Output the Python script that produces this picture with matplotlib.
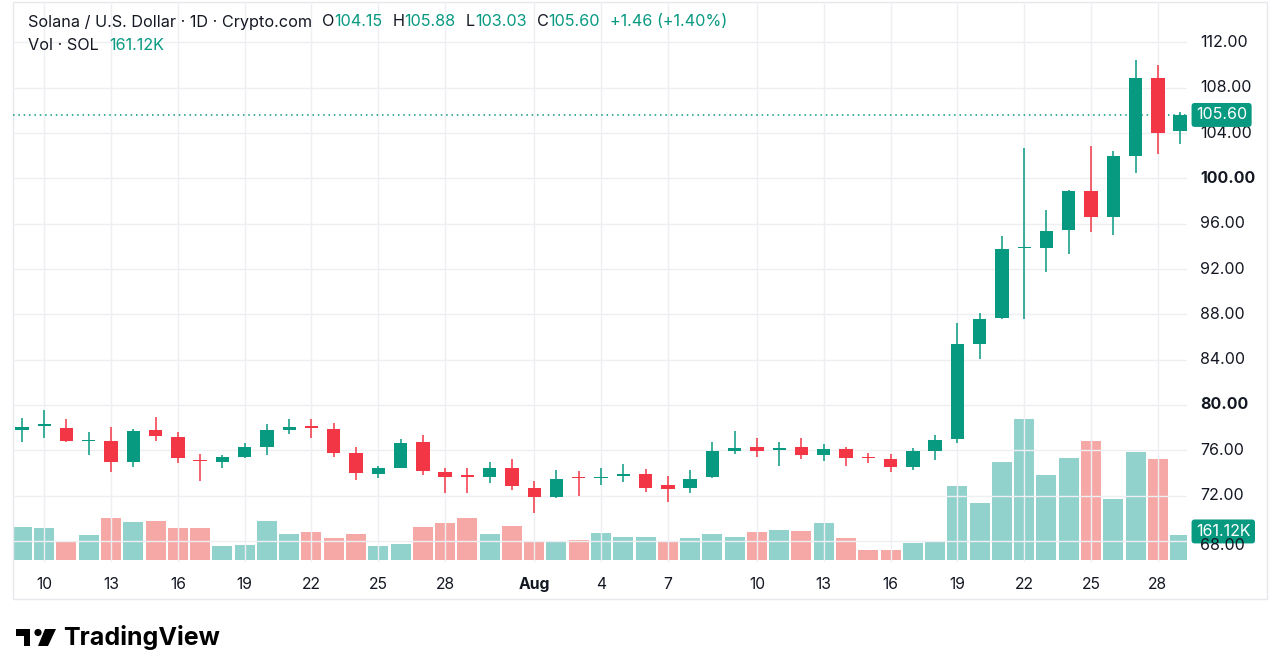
import matplotlib
matplotlib.use('Agg')
import matplotlib.pyplot as plt
from matplotlib.transforms import IdentityTransform
from matplotlib.patches import Rectangle, Circle, Polygon
import numpy as np

plt.rcParams['font.family'] = ['Inter', 'DejaVu Sans']

# daily candles, 9 Jul -> 28 Aug (SOL/USD, Crypto.com)
opens = [77.75, 78.15, 78.0, 76.8, 76.8, 74.95, 77.8, 77.15, 75.15, 75.0,
         75.45, 76.25, 77.75, 78.05, 77.9, 75.8, 73.9, 74.45, 76.7, 74.1,
         73.7, 73.6, 74.4, 72.7, 71.85, 73.6, 73.55, 73.75, 73.95, 72.95,
         72.65, 73.6, 75.95, 76.25, 76.05, 76.25, 75.6, 76.1, 75.4, 75.2,
         74.5, 75.95, 77.0, 85.4, 87.65, 93.85, 93.85, 95.45, 98.85, 96.6,
         102.0, 108.9, 104.15]
highs = [78.85, 79.55, 78.8, 77.65, 78.1, 77.85, 78.95, 77.6, 75.65, 75.6,
         76.6, 78.3, 78.75, 78.8, 78.45, 76.3, 74.6, 77.0, 77.35, 74.4,
         74.4, 74.95, 75.2, 73.25, 74.25, 74.2, 74.4, 74.8, 74.35, 73.75,
         74.3, 76.75, 77.7, 77.05, 76.7, 77.1, 76.55, 76.25, 75.75, 75.7,
         76.2, 77.35, 87.25, 88.1, 94.95, 102.65, 97.25, 98.95, 102.9, 102.4,
         110.45, 110.0, 105.88]
lows = [76.7, 77.1, 76.7, 75.6, 74.05, 74.55, 76.85, 74.9, 73.3, 74.4,
        75.3, 75.55, 77.4, 77.05, 75.45, 73.4, 73.55, 74.4, 73.8, 72.25,
        72.25, 73.1, 72.5, 70.5, 71.75, 71.95, 72.95, 73.2, 72.35, 71.45,
        72.25, 73.55, 75.7, 75.45, 74.6, 75.2, 75.05, 74.6, 74.9, 74.05,
        74.3, 75.15, 76.6, 84.05, 87.6, 87.6, 91.7, 93.3, 95.3, 95.0,
        100.45, 102.15, 103.03]
closes = [78.1, 78.2, 76.8, 76.9, 74.95, 77.7, 77.25, 75.3, 75.05, 75.4,
          76.3, 77.75, 78.1, 78.0, 75.8, 74.0, 74.4, 76.6, 74.2, 73.65,
          73.65, 74.4, 72.85, 71.85, 73.45, 73.55, 73.65, 73.95, 72.7, 72.55,
          73.5, 75.9, 76.2, 75.95, 76.15, 75.6, 76.1, 75.35, 75.3, 74.55,
          75.95, 76.9, 85.35, 87.6, 93.75, 93.9, 95.4, 98.85, 96.6, 102.0,
          108.9, 104.05, 105.6]
# volume in thousands of SOL
volumes = [215, 211, 124, 161, 272, 250, 254, 207, 207, 91,
           98, 256, 168, 183, 145, 168, 91, 104, 215, 241,
           272, 171, 220, 119, 122, 130, 174, 152, 148, 126,
           143, 171, 148, 183, 198, 189, 243, 143, 63, 65,
           109, 122, 480, 374, 639, 919, 556, 663, 776, 396,
           702, 660, 161.12]
vol_up = [1, 1, 0, 1, 0, 1, 0, 0, 0, 1,
          1, 1, 1, 0, 0, 0, 1, 1, 0, 0,
          0, 1, 0, 0, 1, 0, 1, 1, 1, 0,
          1, 1, 1, 0, 1, 0, 1, 0, 0, 0,
          1, 1, 1, 1, 1, 1, 1, 1, 0, 1,
          1, 0, 1]

tick_idx = [1, 4, 7, 10, 13, 16, 19, 23, 26, 29, 33, 36, 39, 42, 45, 48, 51]
tick_labels = ['10', '13', '16', '19', '22', '25', '28', 'Aug', '4', '7',
               '10', '13', '16', '19', '22', '25', '28']
price_ticks = [68, 72, 76, 80, 84, 88, 92, 96, 100, 104, 108, 112]

UP = '#089981'
DOWN = '#f23645'
DARK = '#131722'
GRID = '#eeeff2'

W, H = 1280, 650
fig = plt.figure(figsize=(12.8, 6.5), dpi=100, facecolor='white')
px = IdentityTransform()


def fy(y):
    return H - y


ax = fig.add_axes([13 / W, 1 - 562 / H, (1187 - 13) / W, (562 - 2) / H])
vax = ax.twinx()
ax.set_zorder(vax.get_zorder() + 1)
ax.patch.set_visible(False)

x = np.arange(len(opens))
o = np.array(opens)
c = np.array(closes)
up = c >= o
cols = np.where(up, UP, DOWN)

# volume bars
vcols = ['#26a69a' if u else '#ef5350' for u in vol_up]
vax.bar(x, volumes, width=0.9, color=vcols, alpha=0.5, linewidth=0)
vax.set_ylim(-13, 3638)
vax.set_yticks([])

# candles
ax.vlines(x, lows, highs, colors=cols, linewidth=1.1, zorder=3)
body = np.maximum(np.abs(c - o), 0.13)
ax.bar(x, body, bottom=np.minimum(o, c), width=0.6, color=cols, linewidth=0, zorder=4)

ax.set_xlim(-0.40, 52.31)
ax.set_ylim(66.14, 115.57)

ax.set_xticks(tick_idx)
ax.set_xticklabels(tick_labels)
ax.tick_params(axis='x', length=0, pad=10.5, labelsize=11.3, labelcolor=DARK)
for lbl in ax.get_xticklabels():
    if lbl.get_text() == 'Aug':
        lbl.set_fontweight('bold')

ax.set_yticks(price_ticks)
ax.set_yticklabels([])
ax.tick_params(axis='y', length=0, right=False, left=False)
ax.grid(True, color=GRID, linewidth=1)
ax.set_axisbelow(True)

for a in (ax, vax):
    for sp in a.spines.values():
        sp.set_visible(False)

# price scale labels
for v in price_ticks:
    dy = -5 if v == 68 else 0
    ax.annotate(f'{v:.2f}', xy=(1, v), xycoords=('axes fraction', 'data'),
                xytext=(9.5, dy * 0.72), textcoords='offset points',
                ha='left', va='center', fontsize=11.5, color=DARK,
                fontweight='bold' if v in (80, 100) else 'normal',
                annotation_clip=False)

# last price line + tags
last = closes[-1]
ax.axhline(last, color=UP, linestyle=(0, (1, 2.5)), linewidth=1.1, zorder=2)
ax.annotate(f'{last:.2f}', xy=(1, last), xycoords=('axes fraction', 'data'),
            xytext=(6.5, 0), textcoords='offset points', ha='left', va='center',
            fontsize=11.5, color='white', annotation_clip=False,
            bbox=dict(boxstyle='round,pad=0.28,rounding_size=0.2', fc=UP, ec='none'))
vax.annotate(f'{volumes[-1]:.2f}K', xy=(1, volumes[-1] + 25), xycoords=('axes fraction', 'data'),
             xytext=(6.5, 0), textcoords='offset points', ha='left', va='center',
             fontsize=11.5, color='white', annotation_clip=False,
             bbox=dict(boxstyle='round,pad=0.28,rounding_size=0.2', fc=UP, ec='none'))

# panel border
fig.add_artist(Rectangle((13, fy(599)), 1267 - 13, 599 - 2, transform=px,
                         fill=False, edgecolor='#e6e8ee', linewidth=1))

# legend rows
renderer = fig.canvas.get_renderer()


def write_row(x0, y, parts, size=11.7):
    xx = x0
    for s, col, gap in parts:
        t = fig.text(xx, fy(y), s, color=col, fontsize=size, va='center',
                     ha='left', transform=px)
        xx = t.get_window_extent(renderer=renderer).x1 + gap


write_row(28, 22, [
    ('Solana / U.S. Dollar · 1D · Crypto.com', DARK, 10),
    ('O', DARK, 0), ('104.15', UP, 10),
    ('H', DARK, 0), ('105.88', UP, 10),
    ('L', DARK, 0), ('103.03', UP, 10),
    ('C', DARK, 0), ('105.60', UP, 10),
    ('+1.46 (+1.40%)', UP, 0),
])
write_row(28, 45, [('Vol · SOL', DARK, 10), ('161.12K', UP, 0)])

# TradingView mark (kept fully inside the canvas)
fig.add_artist(Rectangle((16, fy(636)), 14, 7, transform=px, color='black', lw=0))
fig.add_artist(Rectangle((24, fy(646)), 6, 17, transform=px, color='black', lw=0))
fig.add_artist(Circle((38, fy(632.5)), 3.6, transform=px, color='black', lw=0))
fig.add_artist(Polygon([(38, fy(646)), (45, fy(629)), (56, fy(629)), (48, fy(646))],
                       transform=px, color='black', lw=0))
fig.text(63, fy(645), 'TradingView', fontsize=18, fontweight='bold', color='black',
         va='baseline', ha='left', transform=px)

fig.savefig('out.png', dpi=100, facecolor='white')
